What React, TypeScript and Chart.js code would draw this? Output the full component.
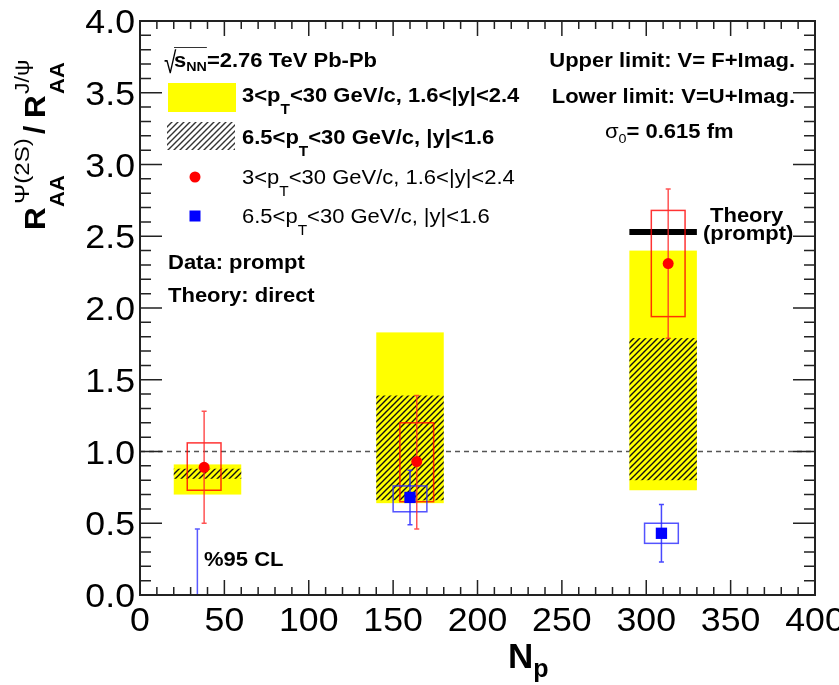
import React, { useEffect, useRef } from "react";
import { Chart, registerables } from "chart.js";

Chart.register(...registerables);

const FONT = '"Liberation Sans", Arial, Helvetica, sans-serif';

// ---- axes ----
const xTickValues = [0, 50, 100, 150, 200, 250, 300, 350, 400];
const xTickLabels = ["0", "50", "100", "150", "200", "250", "300", "350", "400"];
const yTickValues = [0, 0.5, 1, 1.5, 2, 2.5, 3, 3.5, 4];
const yTickLabels = ["0.0", "0.5", "1.0", "1.5", "2.0", "2.5", "3.0", "3.5", "4.0"];

// ---- theory bands (Np ranges) ----
const bandLeft = [20, 140, 290];
const bandRight = [60, 180, 330];
const yellowLow = [0.7, 0.64, 0.73]; // 3<pT<30, 1.6<|y|<2.4
const yellowHigh = [0.91, 1.83, 2.4];
const hatchLow = [0.81, 0.66, 0.8]; // 6.5<pT<30, |y|<1.6
const hatchHigh = [0.88, 1.39, 1.79];
const theoryPromptLeft = [290];
const theoryPromptRight = [330];
const theoryPromptValue = [2.53];

// ---- data: 3<pT<30 GeV/c, 1.6<|y|<2.4 (red) ----
const redNp = [38, 164, 313];
const redRatio = [0.89, 0.93, 2.31];
const redStatLow = [0.5, 0.46, 1.79];
const redStatHigh = [1.28, 1.39, 2.83];
const redSysLow = [0.73, 0.65, 1.94];
const redSysHigh = [1.06, 1.2, 2.68];

// ---- data: 6.5<pT<30 GeV/c, |y|<1.6 (blue) ----
const blueNp = [160, 309];
const blueRatio = [0.68, 0.43];
const blueStatLow = [0.49, 0.23];
const blueStatHigh = [0.87, 0.63];
const blueSysLow = [0.58, 0.36];
const blueSysHigh = [0.76, 0.5];

// 95% CL upper limit (blue, most peripheral)
const limitNp = [34];
const limitValue = [0.46];

const sysHalfWidth = 10; // Np units

type Part = { t: string; size: number; bold?: boolean; dy?: number };

const SX = 1.1;

function fontOf(p: Part) {
  return `${p.bold ? "bold " : ""}${p.size}px ${FONT}`;
}

function partsWidth(ctx: CanvasRenderingContext2D, parts: Part[], sx: number) {
  let w = 0;
  for (const p of parts) {
    ctx.font = fontOf(p);
    w += ctx.measureText(p.t).width * sx;
  }
  return w;
}

function drawParts(
  ctx: CanvasRenderingContext2D,
  parts: Part[],
  x: number,
  y: number,
  align: "left" | "right" | "center" = "left",
  sx = SX
) {
  const w = partsWidth(ctx, parts, sx);
  let cx = align === "right" ? x - w : align === "center" ? x - w / 2 : x;
  ctx.textAlign = "left";
  ctx.textBaseline = "alphabetic";
  for (const p of parts) {
    ctx.font = fontOf(p);
    ctx.save();
    ctx.translate(cx, y + (p.dy || 0));
    ctx.scale(sx, 1);
    ctx.fillText(p.t, 0, 0);
    ctx.restore();
    cx += ctx.measureText(p.t).width * sx;
  }
  return cx;
}

function ptParts(pre: string, post: string, bold: boolean, size: number): Part[] {
  return [
    { t: pre, size, bold },
    { t: "T", size: Math.round(size * 0.72), bold, dy: size * 0.62 },
    { t: post, size, bold },
  ];
}

function makeHatch(ctx: CanvasRenderingContext2D, color: string) {
  const n = 6;
  const c = document.createElement("canvas");
  c.width = n;
  c.height = n;
  const g = c.getContext("2d")!;
  g.strokeStyle = color;
  g.lineWidth = 1.4;
  g.beginPath();
  g.moveTo(0, n);
  g.lineTo(n, 0);
  g.moveTo(-1, 1);
  g.lineTo(1, -1);
  g.moveTo(n - 1, n + 1);
  g.lineTo(n + 1, n - 1);
  g.stroke();
  return ctx.createPattern(c, "repeat")!;
}

const overlay = {
  id: "overlay",
  beforeDatasetsDraw(chart: any) {
    const { ctx, scales } = chart;
    const xs = scales.x;
    const ys = scales.y;
    const X = (v: number) => xs.getPixelForValue(v);
    const Y = (v: number) => ys.getPixelForValue(v);
    ctx.save();

    // reference line at 1
    ctx.strokeStyle = "#555";
    ctx.lineWidth = 1.5;
    ctx.setLineDash([5, 4]);
    ctx.beginPath();
    ctx.moveTo(X(0), Y(1));
    ctx.lineTo(X(400), Y(1));
    ctx.stroke();
    ctx.setLineDash([]);

    // yellow bands
    ctx.fillStyle = "#ffff00";
    for (let i = 0; i < bandLeft.length; i++) {
      ctx.fillRect(X(bandLeft[i]), Y(yellowHigh[i]), X(bandRight[i]) - X(bandLeft[i]), Y(yellowLow[i]) - Y(yellowHigh[i]));
    }
    // hatched bands
    ctx.fillStyle = makeHatch(ctx, "#111");
    for (let i = 0; i < bandLeft.length; i++) {
      ctx.fillRect(X(bandLeft[i]), Y(hatchHigh[i]), X(bandRight[i]) - X(bandLeft[i]), Y(hatchLow[i]) - Y(hatchHigh[i]));
    }
    // theory prompt line
    ctx.strokeStyle = "#000";
    ctx.lineWidth = 6;
    for (let i = 0; i < theoryPromptValue.length; i++) {
      ctx.beginPath();
      ctx.moveTo(X(theoryPromptLeft[i]), Y(theoryPromptValue[i]));
      ctx.lineTo(X(theoryPromptRight[i]), Y(theoryPromptValue[i]));
      ctx.stroke();
    }

    const drawSys = (np: number[], lo: number[], hi: number[], color: string) => {
      ctx.strokeStyle = color;
      ctx.lineWidth = 1.5;
      for (let i = 0; i < np.length; i++) {
        ctx.strokeRect(X(np[i] - sysHalfWidth), Y(hi[i]), X(np[i] + sysHalfWidth) - X(np[i] - sysHalfWidth), Y(lo[i]) - Y(hi[i]));
      }
    };
    const drawStat = (np: number[], lo: number[], hi: number[], color: string) => {
      ctx.strokeStyle = color;
      ctx.lineWidth = 1.5;
      for (let i = 0; i < np.length; i++) {
        const px = X(np[i]);
        ctx.beginPath();
        ctx.moveTo(px, Y(lo[i]));
        ctx.lineTo(px, Y(hi[i]));
        ctx.moveTo(px - 2.5, Y(lo[i]));
        ctx.lineTo(px + 2.5, Y(lo[i]));
        ctx.moveTo(px - 2.5, Y(hi[i]));
        ctx.lineTo(px + 2.5, Y(hi[i]));
        ctx.stroke();
      }
    };
    drawSys(redNp, redSysLow, redSysHigh, "rgba(255,0,0,0.8)");
    drawSys(blueNp, blueSysLow, blueSysHigh, "rgba(40,40,255,0.8)");
    drawStat(redNp, redStatLow, redStatHigh, "rgba(255,40,40,0.8)");
    drawStat(blueNp, blueStatLow, blueStatHigh, "rgba(40,40,255,0.85)");

    // upper limit
    ctx.strokeStyle = "rgba(60,60,255,0.85)";
    ctx.lineWidth = 1.5;
    for (let i = 0; i < limitNp.length; i++) {
      const px = X(limitNp[i]);
      ctx.beginPath();
      ctx.moveTo(px, Y(0));
      ctx.lineTo(px, Y(limitValue[i]));
      ctx.moveTo(px - 2.5, Y(limitValue[i]));
      ctx.lineTo(px + 2.5, Y(limitValue[i]));
      ctx.stroke();
    }
    ctx.restore();
  },
  afterDraw(chart: any) {
    const { ctx, scales, chartArea } = chart;
    const xs = scales.x;
    const ys = scales.y;
    const X = (v: number) => xs.getPixelForValue(v);
    const Y = (v: number) => ys.getPixelForValue(v);
    const { left, right, top, bottom } = chartArea;
    ctx.save();
    ctx.fillStyle = "#000";

    // frame
    ctx.strokeStyle = "#222";
    ctx.lineWidth = 2;
    ctx.strokeRect(left, top, right - left, bottom - top);

    // ticks
    ctx.lineWidth = 1.5;
    ctx.beginPath();
    for (let i = 0; i <= 40; i++) {
      const px = X(i * 10);
      const len = i % 5 === 0 ? 15 : 8;
      ctx.moveTo(px, bottom);
      ctx.lineTo(px, bottom - len);
      ctx.moveTo(px, top);
      ctx.lineTo(px, top + len);
    }
    for (let i = 0; i <= 40; i++) {
      const py = Y(i * 0.1);
      const len = i % 5 === 0 ? 22 : 11;
      ctx.moveTo(left, py);
      ctx.lineTo(left + len, py);
      ctx.moveTo(right, py);
      ctx.lineTo(right - len, py);
    }
    ctx.stroke();

    // tick labels
    const tickSize = 34;
    for (let i = 0; i < yTickValues.length; i++) {
      drawParts(ctx, [{ t: yTickLabels[i], size: tickSize }], left - 5, Y(yTickValues[i]) + tickSize * 0.358, "right", 1.05);
    }
    for (let i = 0; i < xTickValues.length; i++) {
      drawParts(ctx, [{ t: xTickLabels[i], size: tickSize }], X(xTickValues[i]), bottom + 36, "center", 1.05);
    }

    // x title
    drawParts(ctx, [{ t: "N", size: 35, bold: true }, { t: "p", size: 25, bold: true, dy: 9 }], 508, 668, "left", 1.0);

    // y title (rotated)
    ctx.save();
    ctx.translate(45, 230);
    ctx.rotate(-Math.PI / 2);
    drawParts(ctx, [{ t: "R", size: 30, bold: true }], 0, 0, "left", 1.05);
    drawParts(ctx, [{ t: "AA", size: 20, bold: true }], 23, 18.5, "left", 1.1);
    drawParts(ctx, [{ t: "\u03A8(2S)", size: 21 }], 26, -16, "left", 1.15);
    drawParts(ctx, [{ t: "/", size: 30, bold: true }], 96, 0, "left", 1.0);
    drawParts(ctx, [{ t: "R", size: 30, bold: true }], 112, 0, "left", 1.05);
    drawParts(ctx, [{ t: "J/\u03C8", size: 21 }], 136, -16, "left", 1.1);
    drawParts(ctx, [{ t: "AA", size: 20, bold: true }], 136, 18.5, "left", 1.1);
    ctx.restore();

    // legend
    const fs = 20;
    // sqrt(s_NN)
    ctx.save();
    ctx.font = `30px ${FONT}`;
    ctx.translate(164, 73);
    ctx.scale(0.75, 1);
    ctx.fillText("\u221A", 0, 0);
    ctx.restore();
    const afterS = drawParts(ctx, [{ t: "s", size: fs, bold: true }, { t: "NN", size: 13, bold: true, dy: 4 }], 174, 67);
    ctx.strokeStyle = "#333";
    ctx.lineWidth = 1.2;
    ctx.beginPath();
    ctx.moveTo(174, 47.5);
    ctx.lineTo(afterS, 47.5);
    ctx.stroke();
    drawParts(ctx, [{ t: "=2.76 TeV Pb-Pb", size: fs, bold: true }], afterS, 67);

    ctx.fillStyle = "#ffff00";
    ctx.fillRect(168, 83, 68, 29);
    ctx.fillStyle = "#000";
    drawParts(ctx, ptParts("3<p", "<30 GeV/c, 1.6<|y|<2.4", true, fs), 242, 102);

    ctx.fillStyle = makeHatch(ctx, "#333");
    ctx.fillRect(167, 122, 68, 28);
    ctx.fillStyle = "#000";
    drawParts(ctx, ptParts("6.5<p", "<30 GeV/c, |y|<1.6", true, fs), 242, 144);

    ctx.fillStyle = "#ff0000";
    ctx.beginPath();
    ctx.arc(195, 177, 5.5, 0, Math.PI * 2);
    ctx.fill();
    ctx.fillStyle = "#000";
    drawParts(ctx, ptParts("3<p", "<30 GeV/c, 1.6<|y|<2.4", false, fs), 242, 184);

    ctx.fillStyle = "#0000ff";
    ctx.fillRect(189.5, 210.5, 11, 11);
    ctx.fillStyle = "#000";
    drawParts(ctx, ptParts("6.5<p", "<30 GeV/c, |y|<1.6", false, fs), 242, 223);

    // right-side annotations
    drawParts(ctx, [{ t: "Upper limit: V= F+Imag.", size: fs, bold: true }], 795, 67, "right");
    drawParts(ctx, [{ t: "Lower limit: V=U+Imag.", size: fs, bold: true }], 795, 103, "right");
    drawParts(
      ctx,
      [
        { t: "\u03C3", size: fs },
        { t: "0", size: 13, dy: 5 },
        { t: "= 0.615 fm", size: fs, bold: true },
      ],
      605,
      138
    );
    drawParts(ctx, [{ t: "Theory", size: fs, bold: true }], 710, 222);
    drawParts(ctx, [{ t: "(prompt)", size: fs, bold: true }], 703, 240);
    drawParts(ctx, [{ t: "Data: prompt", size: fs, bold: true }], 168, 269);
    drawParts(ctx, [{ t: "Theory: direct", size: fs, bold: true }], 168, 302);
    drawParts(ctx, [{ t: "%95 CL", size: fs, bold: true }], 204, 566);

    ctx.restore();
  },
};

export default function App() {
  const ref = useRef<HTMLCanvasElement | null>(null);
  useEffect(() => {
    if (!ref.current) return;
    const chart = new Chart(ref.current, {
      type: "scatter",
      data: {
        datasets: [
          {
            label: "3<pT<30 GeV/c, 1.6<|y|<2.4",
            data: redNp.map((x, i) => ({ x, y: redRatio[i] })),
            pointStyle: "circle",
            pointRadius: 5.5,
            backgroundColor: "#ff0000",
            borderWidth: 0,
          },
          {
            label: "6.5<pT<30 GeV/c, |y|<1.6",
            data: blueNp.map((x, i) => ({ x, y: blueRatio[i] })),
            pointStyle: "rect",
            pointRadius: 8,
            backgroundColor: "#0000ff",
            borderWidth: 0,
          },
        ],
      },
      options: {
        responsive: false,
        animation: false,
        events: [],
        layout: { padding: { left: 0, right: 24, top: 21, bottom: 0 } },
        plugins: { legend: { display: false }, tooltip: { enabled: false } },
        scales: {
          x: {
            type: "linear",
            min: 0,
            max: 400,
            grid: { display: false },
            border: { display: false },
            ticks: { display: false },
            afterFit: (s: any) => {
              s.height = 90;
              s.paddingLeft = 0;
              s.paddingRight = 0;
            },
          },
          y: {
            type: "linear",
            min: 0,
            max: 4,
            grid: { display: false },
            border: { display: false },
            ticks: { display: false },
            afterFit: (s: any) => {
              s.width = 140;
              s.paddingTop = 0;
              s.paddingBottom = 0;
            },
          },
        },
      } as any,
      plugins: [overlay],
    });
    return () => chart.destroy();
  }, []);
  return (
    <div style={{ position: "absolute", left: 0, top: 0, width: 839, height: 685, background: "#fff" }}>
      <canvas ref={ref} width={839} height={685} style={{ display: "block" }} />
    </div>
  );
}
